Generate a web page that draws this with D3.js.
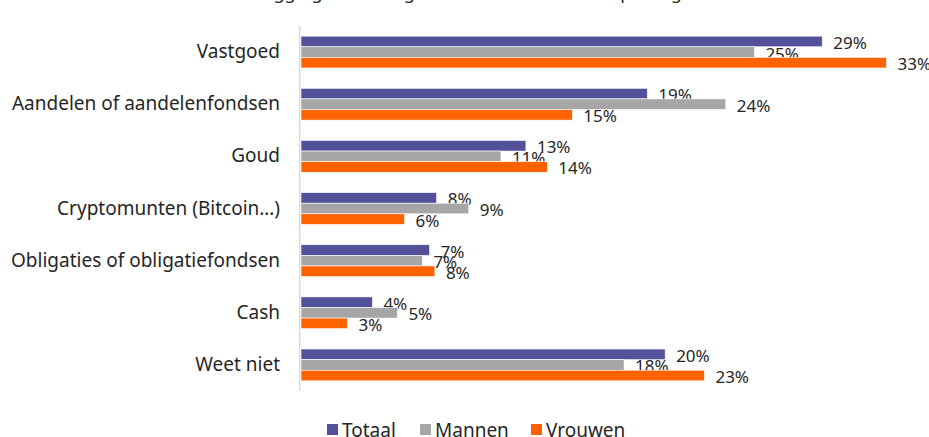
<!DOCTYPE html>
<html><head><meta charset="utf-8">
<script src="https://cdn.jsdelivr.net/npm/d3@7"></script>
<style>
html,body{margin:0;padding:0;background:#fff;}
svg{display:block;font-family:"Noto Sans",sans-serif;}
</style></head>
<body><svg id="chart" width="929" height="437"></svg>
<script>
const title = "Beleggingen die volgens u het meest zullen opbrengen";
const categories = ["Vastgoed","Aandelen of aandelenfondsen","Goud","Cryptomunten (Bitcoin…)","Obligaties of obligatiefondsen","Cash","Weet niet"];
const seriesNames = ["Totaal","Mannen","Vrouwen"];
const totaal  = [29.2, 19.4, 12.6, 7.6, 7.2, 4.0, 20.4];
const mannen  = [25.4, 23.8, 11.2, 9.4, 6.8, 5.4, 18.1];
const vrouwen = [32.8, 15.2, 13.8, 5.8, 7.5, 2.6, 22.6];
const colors = ["#525199","#a6a6a6","#ff6200"];

const series = [totaal, mannen, vrouwen];
const svg = d3.select("#chart");
const textColor = "#262626";

const x = d3.scaleLinear().domain([0, 35]).range([301, 301 + 35*17.85]);
const y = d3.scaleBand().domain(categories).range([26, 391]).paddingInner(0.39).paddingOuter(0.195);
const y1 = d3.scaleBand().domain(seriesNames).range([0, y.bandwidth()]);

// title (cut off at top)
svg.append("text").attr("x", 470).attr("y", -1).attr("text-anchor","middle")
  .attr("font-size", 18).attr("fill", textColor).text(title);

// axis line
svg.append("line").attr("x1", 299.75).attr("x2", 299.75).attr("y1", 26).attr("y2", 391)
  .attr("stroke", "#d9d9d9").attr("stroke-width", 1.5);

// category labels
const yAxis = d3.axisLeft(y).tickSize(0).tickPadding(0);
const ga = svg.append("g").attr("transform","translate(280,0)").call(yAxis);
ga.select(".domain").remove();
ga.selectAll("text").attr("font-size", 19).attr("fill", textColor).attr("font-family","Noto Sans");

const groups = svg.selectAll("g.cat").data(categories).join("g").attr("class","cat")
  .attr("transform", d => `translate(0,${y(d)})`);

groups.each(function(cat, ci){
  const g = d3.select(this);
  seriesNames.forEach((s, si) => {
    const v = series[si][ci];
    g.append("rect").attr("x", x(0)).attr("y", y1(s))
      .attr("width", x(v) - x(0)).attr("height", y1.bandwidth())
      .attr("fill", colors[si]).attr("stroke","#fff").attr("stroke-width",0.6);
    g.append("text").attr("x", x(v) + 11).attr("y", y1(s) + y1.bandwidth()/2 + 1)
      .attr("dominant-baseline","central").attr("font-size", 17).attr("fill", textColor)
      .text(Math.round(v) + "%");
  });
});

// legend
const legendX = [327, 420, 531];
const leg = svg.append("g");
seriesNames.forEach((s, i) => {
  leg.append("rect").attr("x", legendX[i]).attr("y", 424).attr("width", 11).attr("height", 11).attr("fill", colors[i]);
  leg.append("text").attr("x", legendX[i] + 15).attr("y", 430).attr("dominant-baseline","central")
    .attr("font-size", 19).attr("fill", textColor).text(s);
});
</script></body></html>
